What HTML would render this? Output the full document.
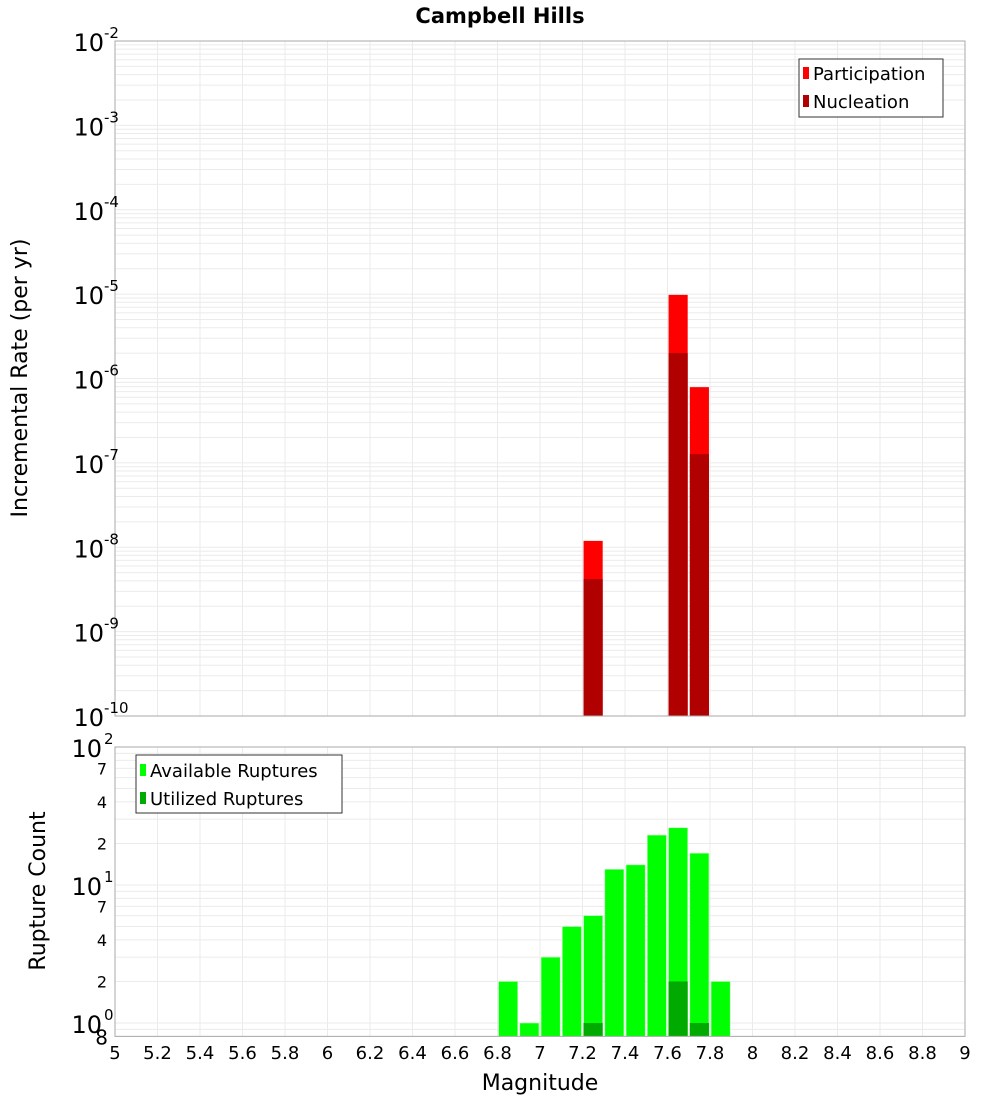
<!DOCTYPE html>
<html><head><meta charset="utf-8"><style>
body{margin:0;background:#fff}
svg{font-family:"DejaVu Sans","Liberation Sans",sans-serif}
</style></head><body>
<svg id="c" width="1000" height="1100" xmlns="http://www.w3.org/2000/svg">
<text x="500" y="23" text-anchor="middle" font-size="21" font-weight="bold">Campbell Hills</text>
<g id="topPlot"></g>
<g id="botPlot"></g>
<text transform="translate(27,378) rotate(-90)" text-anchor="middle" font-size="22">Incremental Rate (per yr)</text>
<text transform="translate(45,891) rotate(-90)" text-anchor="middle" font-size="22">Rupture Count</text>
<text x="540" y="1090" text-anchor="middle" font-size="22">Magnitude</text>
<g id="legends">
<g>
<rect x="799" y="59" width="144" height="58" fill="#fff" stroke="#333"/>
<rect x="803" y="67" width="6" height="12" fill="#ff0000"/>
<text x="813" y="80" font-size="18">Participation</text>
<rect x="803" y="95" width="6" height="12" fill="#b00000"/>
<text x="813" y="108" font-size="18">Nucleation</text>
</g>
<g>
<rect x="136" y="755" width="206" height="58" fill="#fff" stroke="#333"/>
<rect x="140" y="764" width="6" height="12" fill="#00ff00"/>
<text x="150" y="777" font-size="18">Available Ruptures</text>
<rect x="140" y="792" width="6" height="12" fill="#00aa00"/>
<text x="150" y="805" font-size="18">Utilized Ruptures</text>
</g>
</g>
</svg>
<script>
const binCenters=[6.85,6.95,7.05,7.15,7.25,7.35,7.45,7.55,7.65,7.75,7.85];
const available=[2,1,3,5,6,13,14,23,26,17,2];
const utilized=[0,0,0,0,1,0,0,0,2,1,0];
const rateMags=[7.25,7.65,7.75];
const participation=[1.19e-8,9.8e-6,7.9e-7];
const nucleation=[4.2e-9,2.0e-6,1.27e-7];
const xTicks=[5,5.2,5.4,5.6,5.8,6,6.2,6.4,6.6,6.8,7,7.2,7.4,7.6,7.8,8,8.2,8.4,8.6,8.8,9];
const topExps=[-2,-3,-4,-5,-6,-7,-8,-9,-10];
const botMinor=[2,4,7,20,40,70];

const NS="http://www.w3.org/2000/svg";
const X0=115,X1=965;
const xs=m=>X0+(m-5)/4*(X1-X0);
const TY0=41,TY1=716;
const ty=v=>TY0+(-2-Math.log10(v))/8*(TY1-TY0);
const BY0=747,BD=138;
const by=v=>BY0+(2-Math.log10(v))*BD;
const BY1=by(0.8);
function mk(p,t,a){const e=document.createElementNS(NS,t);for(const k in a)e.setAttribute(k,a[k]);p.appendChild(e);return e;}
const topG=document.getElementById('topPlot'),botG=document.getElementById('botPlot'),svgEl=document.getElementById('c');

mk(topG,'rect',{x:X0,y:TY0,width:X1-X0,height:TY1-TY0,fill:'#fff'});
for(let d=-10;d<-2;d++)for(let k=1;k<10;k++){const y=ty(k*Math.pow(10,d));const l=mk(topG,'line',{x1:X0,x2:X1,y1:y,y2:y,stroke:'#ebebeb'});}
xTicks.forEach(t=>{const l=mk(topG,'line',{x1:xs(t),x2:xs(t),y1:TY0,y2:TY1,stroke:'#ebebeb'});});
rateMags.forEach((m,i)=>{
 const r=mk(topG,'rect',{x:xs(m-0.045),width:xs(m+0.045)-xs(m-0.045),y:ty(participation[i]),height:TY1-ty(participation[i]),fill:'#ff0000'});
 
 
 const n=mk(topG,'rect',{x:xs(m-0.045),width:xs(m+0.045)-xs(m-0.045),y:ty(nucleation[i]),height:TY1-ty(nucleation[i]),fill:'#b00000'});
 
 
});
mk(topG,'rect',{x:X0,y:TY0,width:X1-X0,height:TY1-TY0,fill:'none',stroke:'#aaa'});
topExps.forEach(e=>{
 const y=ty(Math.pow(10,e));
 const t=mk(svgEl,'text',{x:104,y:y+10,'text-anchor':'end','font-size':'24'});
 
 
 t.textContent='10';
 const s=mk(svgEl,'text',{x:104,y:y-3,'font-size':'15'});
 
 
 s.textContent=String(e);
});

mk(botG,'rect',{x:X0,y:BY0,width:X1-X0,height:BY1-BY0,fill:'#fff'});
[0.8,0.9,1,2,3,4,5,6,7,8,9,10,20,30,40,50,60,70,80,90].forEach(v=>{const y=by(v);const l=mk(botG,'line',{x1:X0,x2:X1,y1:y,y2:y,stroke:'#ebebeb'});});
xTicks.forEach(t=>{const l=mk(botG,'line',{x1:xs(t),x2:xs(t),y1:BY0,y2:BY1,stroke:'#ebebeb'});});
binCenters.forEach((m,i)=>{
 const x=xs(m-0.045),w=xs(m+0.045)-xs(m-0.045);
 const r=mk(botG,'rect',{x:x,width:w,y:by(available[i]),height:BY1-by(available[i]),fill:'#00ff00',stroke:'#b8ffb8','stroke-width':'0.6'});
 
 
 if(utilized[i]>0){
  const u=mk(botG,'rect',{x:x,width:w,y:by(utilized[i]),height:BY1-by(utilized[i]),fill:'#00aa00'});
  
  
 }
});
mk(botG,'rect',{x:X0,y:BY0,width:X1-X0,height:BY1-BY0,fill:'none',stroke:'#aaa'});
[[100,'2'],[10,'1'],[1,'0']].forEach(([v,e])=>{
 const y=by(v);
 const t=mk(svgEl,'text',{x:102,y:y+10,'text-anchor':'end','font-size':'24'});
 
 
 t.textContent='10';
 const s=mk(svgEl,'text',{x:104,y:y-3,'font-size':'15'});
 
 
 s.textContent=e;
});
botMinor.forEach(v=>{
 const t=mk(svgEl,'text',{x:107,y:by(v)+6,'text-anchor':'end','font-size':'16'});
 
 
 t.textContent=String(v).charAt(0);
});
const e8=mk(svgEl,'text',{x:108,y:BY1+8,'text-anchor':'end','font-size':'20'});


e8.textContent='8';
xTicks.forEach(t=>{
 const l=mk(svgEl,'text',{x:xs(t),y:1059,'text-anchor':'middle','font-size':'18'});
 
 
 l.textContent=String(t);
});
svgEl.appendChild(document.getElementById('legends'));
</script>
</body></html>
